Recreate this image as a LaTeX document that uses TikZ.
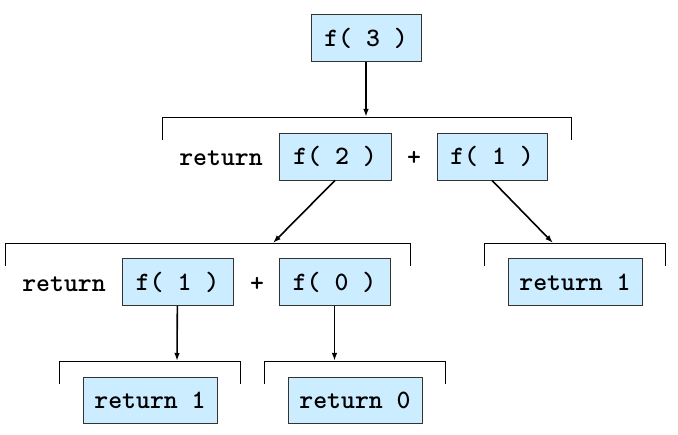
\documentclass[tikz,border=0pt]{standalone}
\usepackage{xcolor}
\usetikzlibrary{arrows.meta}
\definecolor{callblue}{RGB}{204,236,255}

\begin{document}
\begin{tikzpicture}[x=1pt, y=-1pt,
    font=\fontsize{26.5}{30}\selectfont\ttfamily\bfseries,
    call/.style={draw=black!80, line width=0.8pt, fill=callblue, minimum height=47pt, inner sep=0pt},
    word/.style={inner sep=0pt},
    link/.style={line width=1.6pt, -{Latex[length=8pt,width=5.5pt]}},
    bracket/.style={line width=0.9pt}]
      \useasboundingbox (0,0) rectangle (678,435);
      % top call
      \node [call, minimum width=110pt] (f3) at (366,38) {f( 3 )};
      % first return line
      \node [word] (ret1) at (221,158) {return};
      \node [call, minimum width=112pt] (f2) at (335,156.5) {f( 2 )};
      \node [word] (plus1) at (414,158) {+};
      \node [call, minimum width=110pt] (f1a) at (492,156.5) {f( 1 )};
      % second return line
      \node [word] (ret2) at (64,284) {return};
      \node [call, minimum width=111pt] (f1b) at (177.5,282) {f( 1 )};
      \node [word] (plus2) at (257,284) {+};
      \node [call, minimum width=111pt] (f0) at (334.5,282) {f( 0 )};
      \node [call, minimum width=134pt] (r1a) at (575,282) {return 1};
      % base cases
      \node [call, minimum width=134pt, minimum height=46pt] (r1b) at (150,400) {return 1};
      \node [call, minimum width=134pt, minimum height=46pt] (r0) at (355,400) {return 0};
      % brackets
      \foreach \l/\r/\y in {162/571/117, 5/410/243, 484/665/243, 59/240/361, 264/445/361}
      {
        \draw [bracket] (\l,\y+23) -- (\l,\y) -- (\r,\y) -- (\r,\y+23);
      }
      \coordinate (t3) at (366,117);
      \coordinate (t2) at (273,243);
      \coordinate (t1a) at (553,243);
      \coordinate (t1b) at (177,361);
      \coordinate (t0) at (334.5,361);
      \draw [link] (f3) -- (t3);
      \draw [link] (f2.south) -- (t2);
      \draw [link] (f1a.south) -- (t1a);
      \draw [link] (f1b) -- (t1b);
      \draw [link] (f0) -- (t0);
\end{tikzpicture}
\end{document}
